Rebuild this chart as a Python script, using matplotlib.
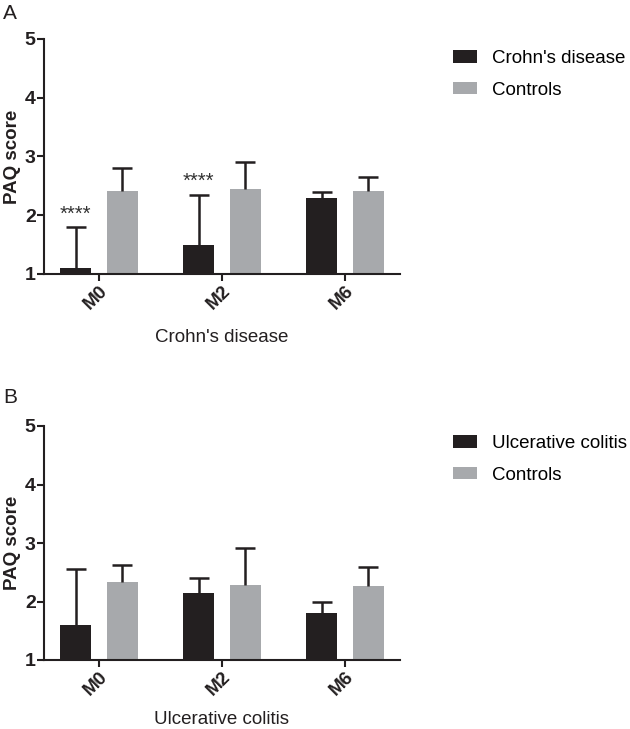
import numpy as np
import matplotlib
matplotlib.use("Agg")
import matplotlib.pyplot as plt

plt.rcParams['font.family'] = ['Liberation Sans', 'DejaVu Sans']

# data
timepoints = ['M0', 'M2', 'M6']

cd_means = [1.10, 1.50, 2.29]
cd_err = [0.70, 0.85, 0.11]
cd_ctrl_means = [2.41, 2.45, 2.41]
cd_ctrl_err = [0.39, 0.45, 0.24]
cd_signif = ['****', '****', '']

uc_means = [1.60, 2.14, 1.80]
uc_err = [0.95, 0.26, 0.20]
uc_ctrl_means = [2.33, 2.29, 2.27]
uc_ctrl_err = [0.29, 0.63, 0.32]
uc_signif = ['', '', '']

dark = '#231f20'
grey = '#a7a9ac'
fs = 13.5

fig = plt.figure(figsize=(6.3, 7.29), dpi=100)
ax_a = fig.add_axes([44/630, 1 - 274/729, 356/630, 235/729])
ax_b = fig.add_axes([44/630, 1 - 660/729, 356/630, 234/729])


def panel(ax, means, err, c_means, c_err, signif, name, letter, leg_top, let_top, xpad):
    x = np.arange(len(timepoints))
    off = 0.19
    width = 0.25
    ax.bar(x - off, means, width, color=dark, label=name, zorder=2)
    ax.bar(x + off, c_means, width, color=grey, label='Controls', zorder=2)

    for xs, m, e in [(x - off, means, err), (x + off, c_means, c_err)]:
        eb = ax.errorbar(xs, m, yerr=[np.zeros(len(m)), e], fmt='none',
                         ecolor=dark, elinewidth=1.8, capsize=7.5,
                         capthick=1.8, zorder=3)
        eb[1][0].set_visible(False)  # hide lower cap

    for i, s in enumerate(signif):
        if s:
            ax.text(x[i] - off, means[i] + err[i] + 0.06, s, ha='center',
                    va='bottom', fontsize=14.5, color='#333333')

    ax.set_ylim(1, 5)
    ax.set_xlim(-0.447, 2.447)
    ax.set_yticks([1, 2, 3, 4, 5])
    ax.set_yticklabels(['1', '2', '3', '4', '5'], fontweight='bold', fontsize=14)
    ax.set_xticks(x)
    ax.set_xticklabels(timepoints, rotation=45, ha='right',
                       rotation_mode='anchor', fontweight='bold', fontsize=fs)
    ax.tick_params(width=1.5, length=5, colors=dark, pad=1)
    for sp in ['top', 'right']:
        ax.spines[sp].set_visible(False)
    for sp in ['left', 'bottom']:
        ax.spines[sp].set_linewidth(1.5)
        ax.spines[sp].set_color(dark)
    ax.set_ylabel('PAQ score', fontweight='bold', fontsize=fs, labelpad=3, color=dark)
    ax.set_xlabel(name, fontsize=fs, labelpad=xpad, color=dark)

    ax.legend(loc='upper left', bbox_to_anchor=(453/630, 1 - leg_top/729),
              bbox_transform=fig.transFigure, frameon=False, fontsize=fs,
              borderpad=0, borderaxespad=0, handlelength=1.3,
              handleheight=0.63, handletextpad=0.8, labelspacing=0.78)
    fig.text(3/630, 1 - let_top/729, letter, fontsize=15, va='top',
             ha='left', color=dark)


panel(ax_a, cd_means, cd_err, cd_ctrl_means, cd_ctrl_err, cd_signif,
      "Crohn's disease", 'A', 50, 4, 12)
panel(ax_b, uc_means, uc_err, uc_ctrl_means, uc_ctrl_err, uc_signif,
      'Ulcerative colitis', 'B', 435, 388, 9)

fig.savefig('out.png', dpi=100)
